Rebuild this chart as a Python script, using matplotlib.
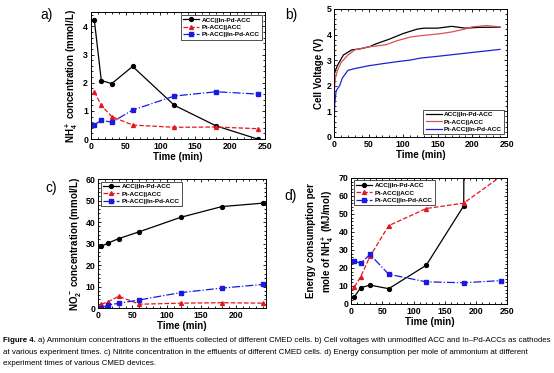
import numpy as np
import matplotlib
matplotlib.use('Agg')
import matplotlib.pyplot as plt
from matplotlib.ticker import AutoMinorLocator

plt.rcParams['font.family'] = ['Liberation Sans', 'DejaVu Sans']
plt.rcParams['font.weight'] = 'bold'
plt.rcParams['axes.labelweight'] = 'bold'
plt.rcParams['mathtext.fontset'] = 'custom'
plt.rcParams['mathtext.rm'] = 'Liberation Sans:bold'
plt.rcParams['mathtext.bf'] = 'Liberation Sans:bold'
plt.rcParams['mathtext.default'] = 'bf'

labels = ['ACC||In-Pd-ACC', 'Pt-ACC||ACC', 'Pt-ACC||In-Pd-ACC']
t = [5, 15, 30, 60, 120, 180, 240]

# a) ammonium concentration (mmol/L)
nh4_acc = [4.22, 2.08, 1.97, 2.58, 1.2, 0.47, 0.0]
nh4_pt_acc = [1.68, 1.2, 0.8, 0.5, 0.42, 0.43, 0.37]
nh4_pt_inpd = [0.5, 0.67, 0.6, 1.03, 1.53, 1.68, 1.6]

# b) cell voltage (V)
tb_black = [0, 2, 5, 13.5, 25.6, 37.6, 52, 60, 80, 100, 120, 130, 150, 170, 190, 210, 240]
vb_black = [2.4, 2.6, 2.8, 3.2, 3.4, 3.44, 3.53, 3.63, 3.82, 4.04, 4.21, 4.25, 4.25, 4.32, 4.25, 4.28, 4.29]
tb_red = [0, 2, 5, 10, 20, 30, 50, 60, 75, 90, 110, 130, 150, 170, 190, 200, 220, 240]
vb_red = [1.7, 2.3, 2.6, 2.9, 3.2, 3.4, 3.52, 3.55, 3.6, 3.75, 3.9, 3.97, 4.02, 4.1, 4.22, 4.3, 4.35, 4.3]
tb_blue = [0, 1, 3, 8, 12, 20, 30, 50, 75, 100, 110, 125, 150, 200, 240]
vb_blue = [0.3, 1.3, 1.8, 2.0, 2.3, 2.6, 2.67, 2.78, 2.88, 2.97, 3.0, 3.08, 3.15, 3.3, 3.42]

# c) nitrite concentration (mmol/L)
no2_acc = [28.8, 30.3, 32.3, 35.5, 42.2, 47.2, 48.8]
no2_pt_acc = [1.8, 3.0, 5.5, 1.8, 2.3, 2.5, 2.3]
no2_pt_inpd = [0.2, 1.5, 2.2, 3.8, 7.2, 9.3, 11.0]

# d) energy consumption (MJ/mol)
e_acc = [4, 9, 10.5, 8.5, 21.5, 54.5, 5000]
e_pt_acc = [9.5, 15, 26.5, 43.5, 53, 56, 71]
e_pt_inpd = [24, 22.5, 27.5, 16.5, 12.3, 11.8, 13]

styles = [dict(color='black', ls='-', marker='o'),
          dict(color='#e8141c', ls='--', marker='^'),
          dict(color='#1a1ae0', ls='-.', marker='s')]

fig = plt.figure(figsize=(5.54, 3.73), dpi=100)
ax_a = fig.add_axes([0.164, 0.627, 0.314, 0.340])
ax_b = fig.add_axes([0.603, 0.633, 0.312, 0.343])
ax_c = fig.add_axes([0.177, 0.174, 0.303, 0.346])
ax_d = fig.add_axes([0.634, 0.185, 0.282, 0.338])


def style_axes(ax):
    ax.tick_params(which='both', direction='in', top=True, right=True, labelsize=6.3, width=0.6, pad=2)
    ax.tick_params(which='major', length=2.5)
    ax.tick_params(which='minor', length=1.3)
    ax.xaxis.set_minor_locator(AutoMinorLocator(5))
    ax.yaxis.set_minor_locator(AutoMinorLocator(5))
    for s in ax.spines.values():
        s.set_linewidth(0.7)
    ax.set_xlabel('Time (min)', fontsize=7, labelpad=1)


def add_legend(ax, loc):
    leg = ax.legend(loc=loc, fontsize=4.6, frameon=True, fancybox=False, edgecolor='black',
                    borderpad=0.35, labelspacing=0.3, handlelength=2.5, handletextpad=0.4,
                    borderaxespad=0.4)
    leg.get_frame().set_linewidth(0.6)
    for txt in leg.get_texts():
        txt.set_fontweight('bold')


def plot_series(ax, series):
    for y, st, lab in zip(series, styles, labels):
        ax.plot(t, y, color=st['color'], ls=st['ls'], marker=st['marker'], markersize=2.8,
                lw=0.9, label=lab)


plot_series(ax_a, [nh4_acc, nh4_pt_acc, nh4_pt_inpd])
ax_a.set_xlim(0, 250)
ax_a.set_ylim(0, 4.5)
ax_a.set_yticks([0, 1, 2, 3, 4])
style_axes(ax_a)
ax_a.set_ylabel(r'NH$_4^+$ concentration (mmol/L)', fontsize=7, labelpad=2)
add_legend(ax_a, 'upper right')

ax_b.plot(tb_black, vb_black, color='black', lw=0.9, label=labels[0])
ax_b.plot(tb_red, vb_red, color='#e05050', lw=0.9, label=labels[1])
ax_b.plot(tb_blue, vb_blue, color='#2020d0', lw=0.9, label=labels[2])
ax_b.set_xlim(0, 250)
ax_b.set_ylim(0, 5)
style_axes(ax_b)
ax_b.set_ylabel('Cell Voltage (V)', fontsize=7, labelpad=2)
add_legend(ax_b, 'lower right')

plot_series(ax_c, [no2_acc, no2_pt_acc, no2_pt_inpd])
ax_c.set_xlim(0, 244)
ax_c.set_ylim(0, 60)
ax_c.set_xticks([0, 50, 100, 150, 200])
style_axes(ax_c)
ax_c.set_ylabel(r'NO$_2^-$ concentration (mmol/L)', fontsize=7, labelpad=2)
add_legend(ax_c, 'upper left')

plot_series(ax_d, [e_acc, e_pt_acc, e_pt_inpd])
ax_d.set_xlim(0, 250)
ax_d.set_ylim(0, 70)
style_axes(ax_d)
ax_d.set_ylabel('Energy consumption per\n' + r'mole of NH$_4^+$ (MJ/mol)', fontsize=7, labelpad=2,
                linespacing=1.3)
add_legend(ax_d, 'upper left')

for lab, x, y in [('a)', 0.072, 0.96), ('b)', 0.515, 0.96), ('c)', 0.082, 0.495), ('d)', 0.513, 0.475)]:
    fig.text(x, y, lab, fontsize=10, fontweight='normal', va='center', ha='left')

# caption
cap_fs = 5.7
head = fig.text(0.006, 0.086, 'Figure 4.', fontsize=cap_fs, fontweight='bold', ha='left', va='center')
renderer = fig.canvas.get_renderer()
bb = head.get_window_extent(renderer=renderer).transformed(fig.transFigure.inverted())
fig.text(bb.x1 + 0.004, 0.086, 'a) Ammonium concentrations in the effluents collected of different CMED cells. '
         'b) Cell voltages with unmodified ACC and In\u2013Pd-ACCs as cathodes',
         fontsize=cap_fs, fontweight='normal', ha='left', va='center')
fig.text(0.006, 0.056, 'at various experiment times. c) Nitrite concentration in the effluents of different '
         'CMED cells. d) Energy consumption per mole of ammonium at different',
         fontsize=cap_fs, fontweight='normal', ha='left', va='center')
fig.text(0.006, 0.026, 'experiment times of various CMED devices.',
         fontsize=cap_fs, fontweight='normal', ha='left', va='center')

fig.savefig('out.png', dpi=100)
